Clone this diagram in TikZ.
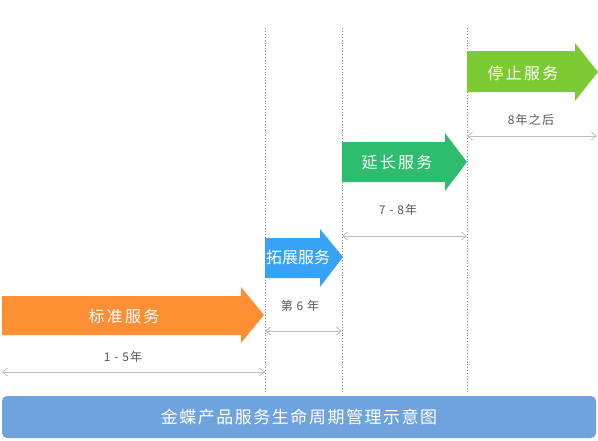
\documentclass[tikz,border=0pt]{standalone}
\usepackage{fontspec}
\setmainfont{Noto Sans CJK SC}
\usetikzlibrary{arrows.meta}
\definecolor{corange}{HTML}{FC8F33}
\definecolor{cblue}{HTML}{38A2F5}
\definecolor{cgreen}{HTML}{2EBD6E}
\definecolor{clime}{HTML}{7DCB33}
\definecolor{cbar}{HTML}{6FA3DD}
\definecolor{cdim}{HTML}{BDBDBD}
\definecolor{clabel}{HTML}{555555}
\definecolor{cdot}{HTML}{8A8A8A}
\tikzset{
  guide/.style={cdot, line width=0.9pt, dotted},
  dimline/.style={cdim, line width=0.8pt, {Straight Barb[length=5pt,width=8pt]}-{Straight Barb[length=5pt,width=8pt]}},
  dimlabel/.style={text=clabel, font=\fontsize{12}{14}\selectfont\addfontfeatures{LetterSpace=10}, inner sep=2pt},
  arrowlabel/.style={text=white, font=\fontsize{16}{19}\selectfont\addfontfeatures{LetterSpace=14}},
}
\begin{document}
\begin{tikzpicture}[x=1pt,y=-1pt]
\useasboundingbox (0,0) rectangle (598,440);
% guide lines
\coordinate (g1t) at (265,28); \coordinate (g1b) at (265,391);
\coordinate (g2t) at (342,28); \coordinate (g2b) at (342,391);
\coordinate (g3t) at (467,28); \coordinate (g3b) at (467,391);
\coordinate (l0) at (2,372);
\coordinate (r4) at (597,136);
\draw[guide] (g1t) -- (g1b);
\draw[guide] (g2t) -- (g2b);
\draw[guide] (g3t) -- (g3b);
% arrows
\fill[corange] (2,296) -- (241,296) -- (241,287) -- (264,315) -- (241,343) -- (241,335) -- (2,335) -- cycle;
\fill[cblue] (265,238) -- (320,238) -- (320,229) -- (343,257) -- (320,287) -- (320,278) -- (265,278) -- cycle;
\fill[cgreen] (342,142) -- (445,142) -- (445,133) -- (467,162) -- (445,191) -- (445,182) -- (342,182) -- cycle;
\fill[clime] (467,51) -- (575,51) -- (575,43) -- (598,72) -- (575,101) -- (575,92) -- (467,92) -- cycle;
\node[arrowlabel] (a1) at (124,316) {标准服务};
\node[arrowlabel, font=\fontsize{16}{19}\selectfont] (a2) at (298,257) {拓展服务};
\node[arrowlabel] (a3) at (397,162) {延长服务};
\node[arrowlabel] (a4) at (523,73) {停止服务};
% dimension lines
\draw[dimline] (l0) -- (l0 -| g1t);
\draw[dimline] (g1t |- 0,331) -- (g2t |- 0,331);
\draw[dimline] (g2t |- 0,236) -- (g3t |- 0,236);
\draw[dimline] (g3t |- r4) -- (r4);
\node[dimlabel] (d1) at (123,357) {1 - 5年};
\node[dimlabel] (d2) at (300,306) {第 6 年};
\node[dimlabel] (d3) at (398,210) {7 - 8年};
\node[dimlabel] (d4) at (531,120) {8年之后};
% bottom bar
\fill[cbar, rounded corners=5pt] (2,396) rectangle (596,438);
\node[text=white, font=\fontsize{17}{20}\selectfont\addfontfeatures{LetterSpace=9}] (title) at (299,417) {金蝶产品服务生命周期管理示意图};
\end{tikzpicture}
\end{document}
